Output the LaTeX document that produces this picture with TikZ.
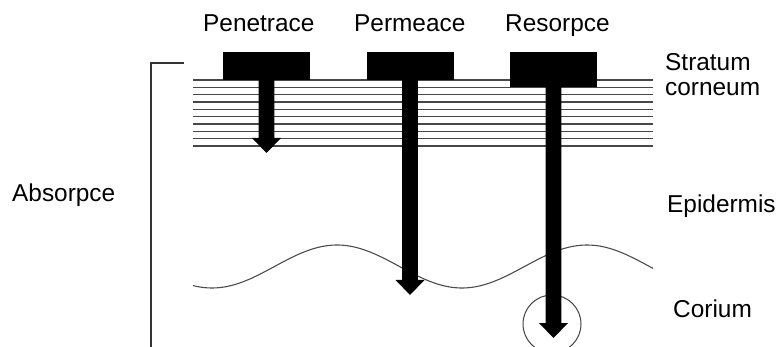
\documentclass[tikz,border=0pt]{standalone}
\usepackage{fontspec}
\setmainfont{Liberation Sans}
\begin{document}
\begin{tikzpicture}[x=1pt,y=-1pt,
  lbl/.style={anchor=base west,inner sep=0pt,font=\fontsize{24.4}{25}\selectfont,align=left},
  blk/.style={fill=black,inner sep=0pt,minimum width=87pt},
  stripe/.style={draw=black!72,line width=1.6pt},
  thin/.style={draw=black!70,line width=1.1pt}]
\useasboundingbox (0,0) rectangle (779,347);
\clip (0,0) rectangle (779,347);
% stratum corneum lines
\foreach \i in {0,...,9}
  \draw[stripe] (193,{80+\i*7.33}) -- (653,{80+\i*7.33});
% wavy boundary
\draw[thin] plot[domain=193:653,samples=120] (\x,{266.5-21.5*cos(1.44*(\x-337))});
% bracket
\coordinate (bt) at (184,63);
\coordinate (bc) at (151,63);
\coordinate (bb) at (151,350);
\draw[draw=black!80,line width=1.3pt] (bt) -- (bc) -- (bb);
% circle
\node[draw=black!75,line width=1pt,circle,minimum size=58pt,inner sep=0pt] (circ) at (552,324) {};
% boxes
\node[blk,minimum height=28pt] (b1) at (266.5,66) {};
\node[blk,minimum height=28pt] (b2) at (410,66) {};
\node[blk,minimum height=35pt] (b3) at (553.5,69.5) {};
\coordinate (t1) at (266.5,153);
\coordinate (t2) at (410,295);
\coordinate (t3) at (553.5,338);
% arrows
\foreach \b/\t in {b1/t1,b2/t2,b3/t3}
  \fill ([xshift=-7.8pt]\b.south) -- ([xshift=-7.8pt,yshift=15pt]\t) -- ([xshift=-14.5pt,yshift=15pt]\t) -- (\t)
        -- ([xshift=14.5pt,yshift=15pt]\t) -- ([xshift=7.8pt,yshift=15pt]\t) -- ([xshift=7.8pt]\b.south) -- cycle;
% labels
\node[lbl] (pen) at (203,32) {Penetrace};
\node[lbl] (per) at (354,32) {Permeace};
\node[lbl] (res) at (505,32) {Resorpce};
\node[lbl] (str) at (665,96) {Stratum\\corneum};
\node[lbl] (abs) at (12,202) {Absorpce};
\node[lbl] (epi) at (667,213) {Epidermis};
\node[lbl] (cor) at (673,318) {Corium};
\end{tikzpicture}
\end{document}
